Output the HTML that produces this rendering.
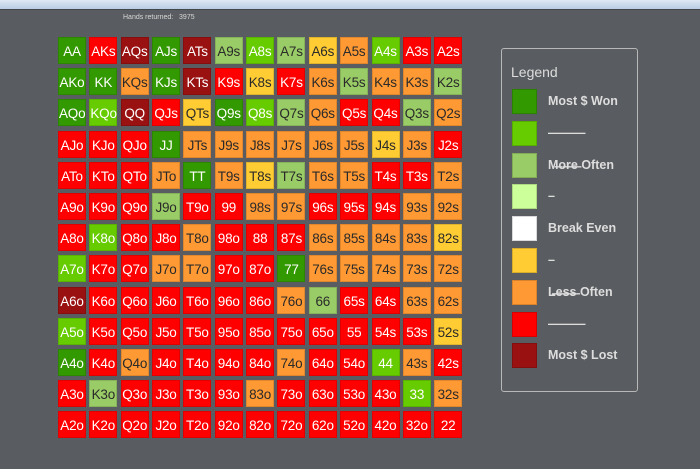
<!DOCTYPE html>
<html><head><meta charset="utf-8"><style>
body{margin:0;width:700px;height:469px;background:#595c60;overflow:hidden;font-family:"Liberation Sans",sans-serif;position:relative}
#top{position:absolute;left:0;top:0;width:700px;height:9px;background:linear-gradient(#dfe8f4,#b9cce4);border-bottom:1px solid #44474a}
#hr{position:absolute;left:123px;top:14px;font-size:7px;color:#d8d8d8}
.c{position:absolute;width:28px;height:27px;font-size:13.5px;line-height:27px;text-align:center;box-sizing:border-box;border:1px solid rgba(0,0,0,0.12);letter-spacing:-0.2px}
#lg{position:absolute;left:501px;top:48px;width:137px;height:344px;border:1px solid #b8b8b8;border-radius:3px;box-sizing:border-box}
#lgt{position:absolute;left:9px;top:15px;font-size:14px;color:#ddd}
.sw{position:absolute;left:10px;width:25px;height:25px;box-sizing:border-box;border:1px solid rgba(0,0,0,0.15)}
.lt{position:absolute;left:46px;font-size:12.5px;color:#ddd;font-weight:bold;line-height:25px}
</style></head><body>
<div id="top"></div>
<div id="hr">Hands returned:&nbsp;&nbsp; 3975</div>
<div id="grid"></div>
<div id="lg">
<div id="lgt">Legend</div>
</div>
<script>
const ranks=["A","K","Q","J","T","9","8","7","6","5","4","3","2"];
const levels=["G","L","P","E","W","Y","O","R","D"];
const levelColors={G:"#339900",L:"#66cc00",P:"#99cc66",E:"#ccff99",W:"#ffffff",Y:"#ffcc33",O:"#ff9933",R:"#ff0000",D:"#991111"};
const levelLabels=["Most $ Won","———","M̶o̶r̶e̶ Often","–","Break Even","–","L̶e̶s̶s̶ Often","———","Most $ Lost"];
const gridRows=[
"GRDGDPLPYOLRR",
"GGOGDRYROPOOP",
"GLDRYGLPORRPO",
"RRRGOOOOOOYOR",
"RRROGOYPOORRO",
"RRRPRROORRROO",
"RLRRORRROOOOY",
"LRROORRGOOOOO",
"DRRRRRROPRROO",
"LRRRRRRRRRRRY",
"GRORRRRORRLOR",
"RPRRRRORRRRLO",
"RRRRRRRRRRRRR"];
const darkText={P:1,Y:1,O:1,E:1,W:1};
const grid=document.getElementById('grid');
function cx(i){return 58+i*31.35}
function cy(i){return 37+i*31.2}
for(let r=0;r<13;r++)for(let c=0;c<13;c++){
 const lv=gridRows[r][c];
 let name=r===c?ranks[r]+ranks[c]:(c>r?ranks[r]+ranks[c]+"s":ranks[c]+ranks[r]+"o");
 const d=document.createElement('div');
 d.className='c';
 
 
 d.style.left=cx(c)+'px';d.style.top=cy(r)+'px';
 d.style.background=levelColors[lv];
 d.style.color=darkText[lv]?'#2a2a2a':'#fff';
 d.textContent=name;
 grid.appendChild(d);
}
const lg=document.getElementById('lg');
levels.forEach((lv,i)=>{
 const s=document.createElement('div');
 s.className='sw';
 
 
 s.style.top=(40+i*31.8)+'px';s.style.background=levelColors[lv];
 lg.appendChild(s);
 const t=document.createElement('div');
 t.className='lt';
 
 
 t.style.top=(40+i*31.8)+'px';t.textContent=levelLabels[i];
 lg.appendChild(t);
});
</script>
</body></html>
